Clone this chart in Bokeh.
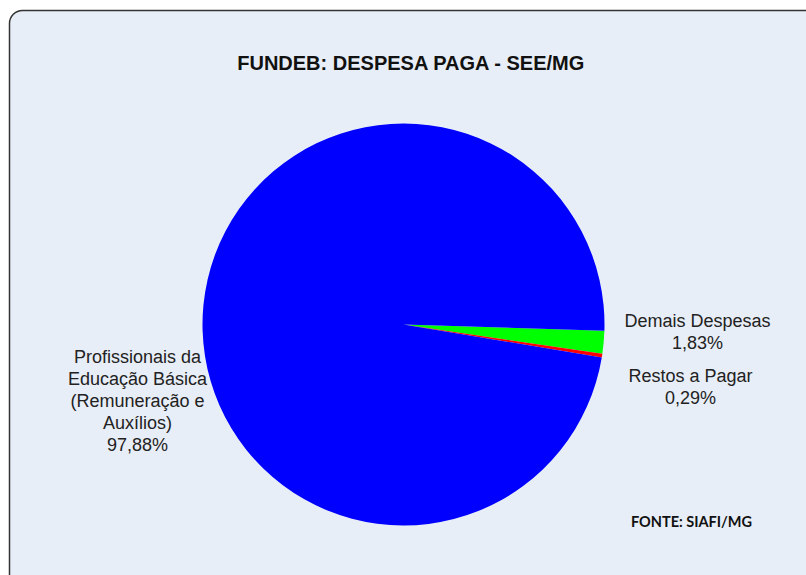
import numpy as np
from bokeh.plotting import figure
from bokeh.models import Range1d, BoxAnnotation, ColumnDataSource
from bokeh.core.properties import value
from bokeh.embed import file_html
from bokeh.resources import INLINE

# ---- data ----
categories = ["Demais Despesas", "Restos a Pagar",
              "Profissionais da\nEducação Básica\n(Remuneração e\nAuxílios)"]
shares = [1.83, 0.29, 97.88]
pct_labels = ["1,83%", "0,29%", "97,88%"]
colors = ["#00FF00", "#FF0000", "#0000FF"]
title_text = "FUNDEB: DESPESA PAGA - SEE/MG"
source_text = "FONTE: SIAFI/MG"

W, H = 806, 575
p = figure(width=W, height=H, output_backend="svg", toolbar_location=None,
           x_range=Range1d(0, W), y_range=Range1d(0, H), min_border=0)
p.axis.visible = False
p.grid.visible = False
p.outline_line_color = None
p.background_fill_color = "white"
p.border_fill_color = "white"

def Y(page_y):
    return H - page_y

def X(page_x):
    return page_x

box = BoxAnnotation(left=X(9), right=X(840), top=Y(10), bottom=Y(610),
                    fill_color="#E8EEF7", fill_alpha=1.0,
                    line_color="#333333", line_alpha=1.0, line_width=1.5,
                    border_radius=13, level="underlay")
p.add_layout(box)

# ---- pie ----
vals = np.array(shares, dtype=float)
frac = vals / vals.sum()
start0 = np.deg2rad(-1.8)
ends = start0 - np.cumsum(frac) * 2 * np.pi
starts = np.concatenate([[start0], ends[:-1]])
src = ColumnDataSource(dict(start=starts, end=ends, color=colors))
p.wedge(x=X(403), y=Y(324), radius=201, start_angle="start", end_angle="end",
        direction="clock", fill_color="color", line_color=None, source=src)

# ---- texts ----
font = value("Liberation Sans")
p.text(x=[X(411)], y=[Y(62)], text=[title_text], text_font=font,
       text_font_size="20px", text_font_style="bold", text_color="#111111",
       text_align="center", text_baseline="middle")

lab_x = [X(697), X(690), X(137)]
lab_y = [Y(331), Y(386), Y(400)]
lab_text = [f"{c}\n{v}" for c, v in zip(categories, pct_labels)]
p.text(x=lab_x, y=lab_y, text=lab_text, text_font=font,
       text_font_size="18px", text_color="#222222", text_align="center",
       text_baseline="middle", text_line_height=1.1)

p.text(x=[X(691)], y=[Y(521)], text=[source_text], text_font=value("Lato"),
       text_font_size="14.5px", text_font_style="bold", text_color="#111111",
       text_align="center", text_baseline="middle")

open("out.html", "w").write(file_html(p, INLINE))
